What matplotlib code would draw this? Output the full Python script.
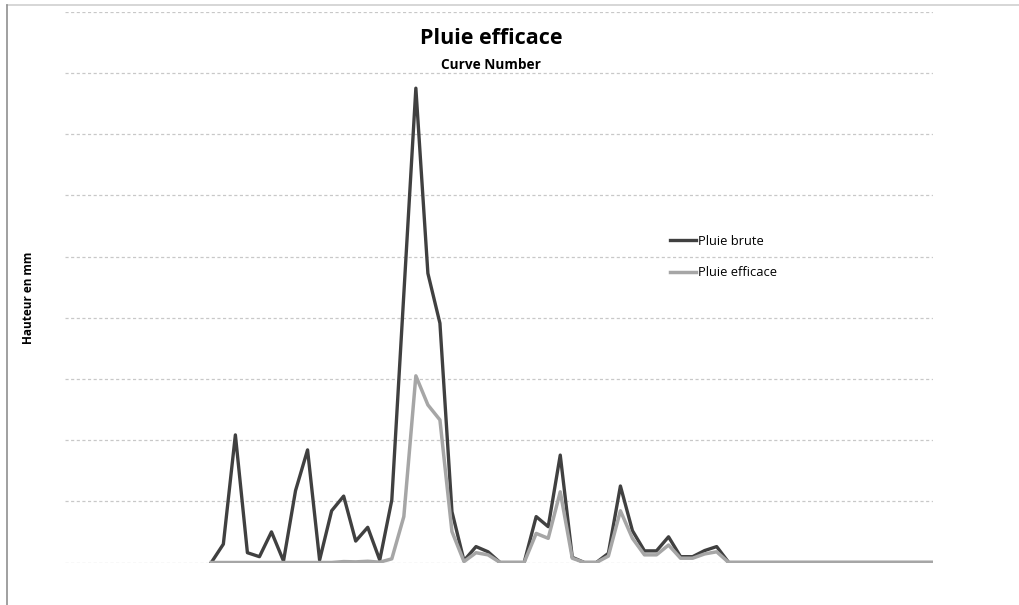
import numpy as np
import matplotlib.pyplot as plt
from matplotlib.lines import Line2D

# 73 time steps, first 12 empty in the source sheet
N_STEPS = 73
FIRST_STEP = 12

pluie_brute = [0.0, 0.60, 4.17, 0.32, 0.19, 1.00, 0.05, 2.35, 3.68, 0.08,
               1.69, 2.17, 0.70, 1.15, 0.08, 2.04, 8.77, 15.50, 9.45, 7.82,
               1.66, 0.06, 0.52, 0.35, 0.0, 0.0, 0.0, 1.50, 1.17, 3.51,
               0.17, 0.0, 0.0, 0.30, 2.50, 1.04, 0.38, 0.38, 0.84, 0.19,
               0.19, 0.39, 0.52, 0.0, 0.0, 0.0, 0.0, 0.0, 0.0, 0.0,
               0.0, 0.0, 0.0, 0.0, 0.0, 0.0, 0.0, 0.0, 0.0, 0.0, 0.0]
pluie_efficace = [0.0, 0.0, 0.0, 0.0, 0.0, 0.0, 0.0, 0.0, 0.0, 0.0,
                  0.0, 0.03, 0.02, 0.04, 0.01, 0.12, 1.50, 6.10, 5.15, 4.66,
                  1.01, 0.03, 0.32, 0.25, 0.0, 0.0, 0.0, 0.95, 0.79, 2.31,
                  0.14, 0.0, 0.0, 0.21, 1.69, 0.79, 0.25, 0.25, 0.57, 0.14,
                  0.14, 0.28, 0.35, 0.0, 0.0, 0.0, 0.0, 0.0, 0.0, 0.0,
                  0.0, 0.0, 0.0, 0.0, 0.0, 0.0, 0.0, 0.0, 0.0, 0.0, 0.0]

TITLE = "Pluie efficace"
SUBTITLE = "Curve Number"
YLABEL = "Hauteur en mm"
LABELS = ["Pluie brute", "Pluie efficace"]

plt.rcParams['font.family'] = ['Open Sans', 'DejaVu Sans']

W, H = 1019, 605
fig = plt.figure(figsize=(W / 100, H / 100), dpi=100)
ax = fig.add_axes([65 / W, (H - 562.5) / H, 868 / W, 550.8 / H])

steps = np.arange(FIRST_STEP, FIRST_STEP + len(pluie_brute))
ax.plot(steps, pluie_brute, color='#404040', lw=2.4, label=LABELS[0],
        solid_joinstyle='round', zorder=3)
ax.plot(steps, pluie_efficace, color='#A6A6A6', lw=2.5, label=LABELS[1],
        solid_joinstyle='round', zorder=4)

ax.set_xlim(-0.16, N_STEPS - 1.02)
ax.set_ylim(0, 18)
ax.set_yticks(np.arange(0, 19, 2))
ax.set_xticks([])
ax.tick_params(axis='y', length=0, labelleft=False)
ax.grid(axis='y', color='#C8C8C8', lw=0.9, ls=(0, (2.5, 2)))
for s in ax.spines.values():
    s.set_visible(False)

ax.set_ylabel(YLABEL, fontsize=8.5, fontweight='bold', labelpad=0)
ax.yaxis.set_label_coords(-30 / 868, 0.48)

fig.text(491 / W, 1 - 39 / H, TITLE, fontsize=15.5, fontweight='bold',
         ha='center', va='center')
fig.text(491 / W, 1 - 65 / H, SUBTITLE, fontsize=9.8, fontweight='bold',
         ha='center', va='center')

ax.legend(loc='upper left', bbox_to_anchor=((670 - 65) / 868, (562.5 - 235) / 550.8),
          frameon=False, fontsize=9.3, handlelength=2.0, handletextpad=0.2,
          labelspacing=1.4, borderpad=0, borderaxespad=0)

# chart area border (top and left edges)
fig.add_artist(Line2D([7 / W, 1], [1 - 5 / H, 1 - 5 / H], color='#D0D0D0', lw=1.2))
fig.add_artist(Line2D([7 / W, 7 / W], [0, 1 - 5 / H], color='#909090', lw=1.2))

fig.savefig('out.png', dpi=100)
